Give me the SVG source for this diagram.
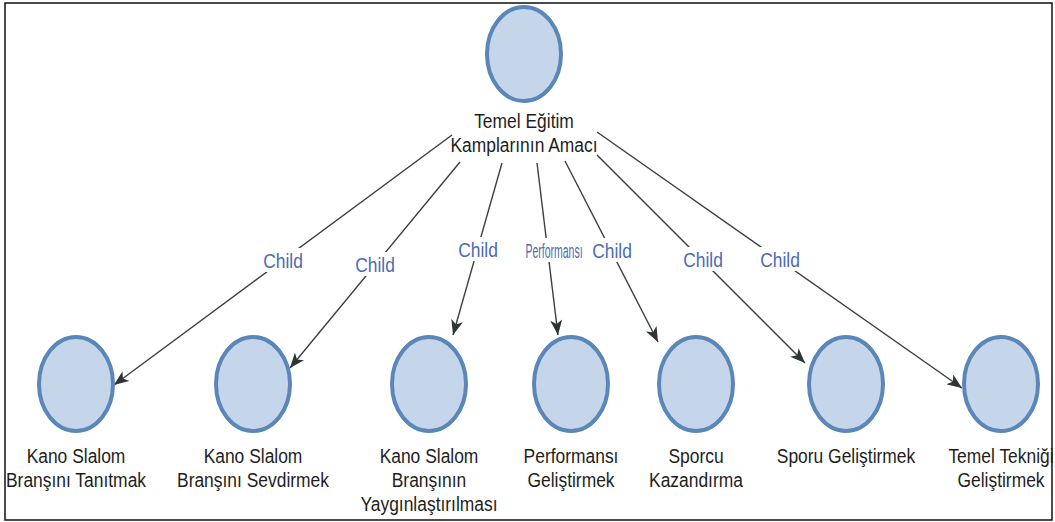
<svg xmlns="http://www.w3.org/2000/svg" width="1055" height="522" viewBox="0 0 1055 522">
<style>
.node ellipse{fill:#c6d6ea;stroke:#5a86b8;stroke-width:4}
.lbl{font-family:"Liberation Sans",Arial,sans-serif;font-size:21px;fill:#1e1e1e;text-anchor:middle}
.cl{font-family:"Liberation Sans",Arial,sans-serif;font-size:21px;fill:#4d6bb3;text-anchor:middle}
.edge{stroke:#3a3f3f;stroke-width:1.4;fill:none;marker-end:url(#arr)}
</style>
<defs>
<marker id="arr" markerUnits="userSpaceOnUse" markerWidth="16" markerHeight="12" refX="15" refY="6" orient="auto">
<path d="M0,0 L15,6 L0,12 L4,6 Z" fill="#2f3434"/>
</marker>
</defs>
<rect x="0" y="0" width="1055" height="522" fill="#ffffff"/>
<rect x="5" y="3" width="1047" height="517" fill="none" stroke="#111" stroke-width="1.5"/>
<g id="connectors">
<line class="edge" x1="452" y1="135" x2="114" y2="385"/>
<line class="edge" x1="460" y1="162" x2="290" y2="368"/>
<line class="edge" x1="502" y1="163" x2="453" y2="335"/>
<line class="edge" x1="537" y1="163" x2="558" y2="335"/>
<line class="edge" x1="565" y1="161" x2="658" y2="342"/>
<line class="edge" x1="597" y1="155" x2="805" y2="363"/>
<line class="edge" x1="597" y1="132" x2="962" y2="388"/>
<g id="edge-labels">
<rect x="261" y="248" width="44" height="24" fill="#fff"/>
<text class="cl" transform="translate(283,268) scale(0.83,1)">Child</text>
<rect x="353" y="252" width="44" height="24" fill="#fff"/>
<text class="cl" transform="translate(375,272) scale(0.83,1)">Child</text>
<rect x="456" y="237" width="44" height="24" fill="#fff"/>
<text class="cl" transform="translate(478,257) scale(0.83,1)">Child</text>
<rect x="525" y="238" width="58" height="24" fill="#fff"/>
<text class="cl" transform="translate(554,258) scale(0.5,1)">Performansı</text>
<rect x="590" y="238" width="44" height="24" fill="#fff"/>
<text class="cl" transform="translate(612,258) scale(0.83,1)">Child</text>
<rect x="681" y="247" width="44" height="24" fill="#fff"/>
<text class="cl" transform="translate(703,267) scale(0.83,1)">Child</text>
<rect x="758" y="247" width="44" height="24" fill="#fff"/>
<text class="cl" transform="translate(780,267) scale(0.83,1)">Child</text>
</g>
</g>
<g id="root" class="node">
<ellipse cx="524" cy="54" rx="37" ry="47"/>
<text class="lbl" transform="translate(524,128) scale(0.83,1)">Temel Eğitim</text>
<text class="lbl" transform="translate(524,152) scale(0.83,1)">Kamplarının Amacı</text>
</g>
<g id="n1" class="node">
<ellipse cx="76" cy="384" rx="37" ry="47"/>
<text class="lbl" transform="translate(76,463) scale(0.83,1)">Kano Slalom</text>
<text class="lbl" transform="translate(76,487) scale(0.83,1)">Branşını Tanıtmak</text>
</g>
<g id="n2" class="node">
<ellipse cx="253" cy="384" rx="37" ry="47"/>
<text class="lbl" transform="translate(253,463) scale(0.83,1)">Kano Slalom</text>
<text class="lbl" transform="translate(253,487) scale(0.83,1)">Branşını Sevdirmek</text>
</g>
<g id="n3" class="node">
<ellipse cx="429" cy="384" rx="37" ry="47"/>
<text class="lbl" transform="translate(429,463) scale(0.83,1)">Kano Slalom</text>
<text class="lbl" transform="translate(429,487) scale(0.83,1)">Branşının</text>
<text class="lbl" transform="translate(429,511) scale(0.83,1)">Yaygınlaştırılması</text>
</g>
<g id="n4" class="node">
<ellipse cx="571" cy="384" rx="37" ry="47"/>
<text class="lbl" transform="translate(571,463) scale(0.83,1)">Performansı</text>
<text class="lbl" transform="translate(571,487) scale(0.83,1)">Geliştirmek</text>
</g>
<g id="n5" class="node">
<ellipse cx="696" cy="384" rx="37" ry="47"/>
<text class="lbl" transform="translate(696,463) scale(0.83,1)">Sporcu</text>
<text class="lbl" transform="translate(696,487) scale(0.83,1)">Kazandırma</text>
</g>
<g id="n6" class="node">
<ellipse cx="846" cy="384" rx="37" ry="47"/>
<text class="lbl" transform="translate(846,463) scale(0.83,1)">Sporu Geliştirmek</text>
</g>
<g id="n7" class="node">
<ellipse cx="1001" cy="384" rx="37" ry="47"/>
<text class="lbl" transform="translate(1001,463) scale(0.83,1)">Temel Tekniği</text>
<text class="lbl" transform="translate(1001,487) scale(0.83,1)">Geliştirmek</text>
</g>
</svg>
